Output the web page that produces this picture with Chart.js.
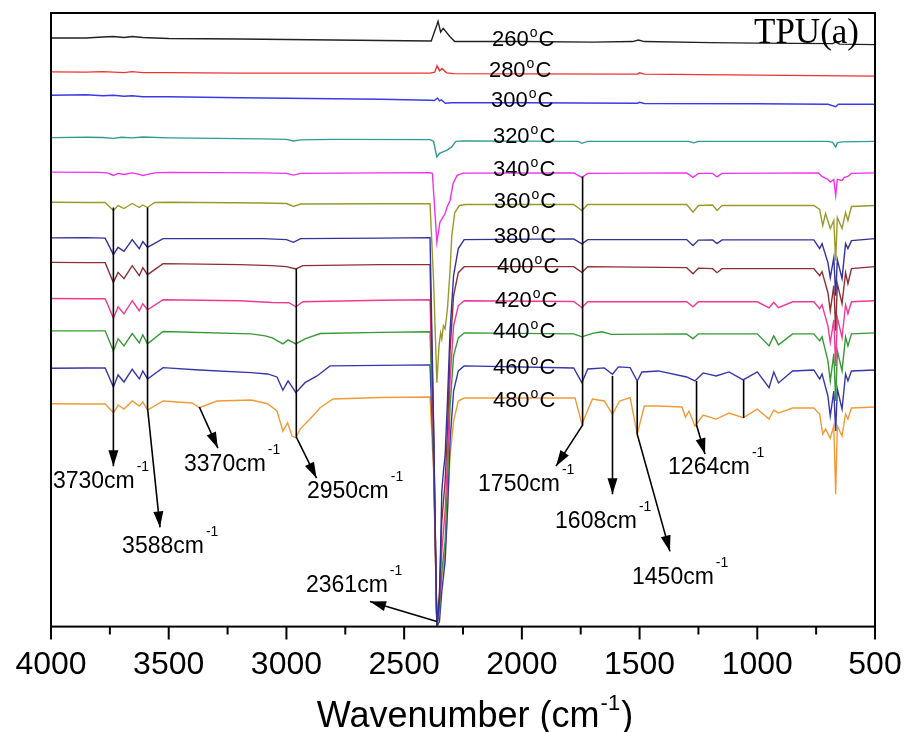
<!DOCTYPE html>
<html>
<head>
<meta charset="utf-8">
<script src="https://cdn.jsdelivr.net/npm/chart.js@4/dist/chart.umd.min.js"></script>
<style>
  html, body { margin: 0; padding: 0; background: #fff; }
</style>
</head>
<body>
<canvas id="chart" width="909" height="732"></canvas>
<script>
"use strict";

// FTIR spectra of TPU, one curve per temperature, offset vertically (a.u.)
const temps = ["260", "280", "300", "320", "340", "360", "380", "400", "420", "440", "460", "480"];
const colors = ["#222222", "#ee3333", "#3a3ae8", "#2f9a96", "#f030f0", "#99992a",
                "#32329a", "#8e2f35", "#ee3a96", "#359a35", "#3636a8", "#f29a38"];

// [wavenumber, offset intensity]
const s260 = [[4000,587],[3850,587],[3780,588],[3735,588.5],[3690,587.5],[3655,588.5],[3610,587.5],[3560,587],
  [3500,586.5],[3200,586],[3000,585.5],[2600,584.5],[2385,584],[2361,600],[2356,603.7],[2345,593],[2334,596.7],
  [2305,588.3],[2285,583.5],[2000,583.5],[1700,583],[1530,583.5],[1505,585],[1480,583.5],[1200,582.5],[1000,582],
  [680,581.5],[667,583],[650,581],[500,580.5]];
const s280 = [[4000,553.3],[3850,553],[3780,553.5],[3735,553],[3690,552.5],[3655,553.5],[3610,552.5],[3500,552.5],
  [3200,552],[2800,552],[2390,552],[2370,553],[2360,559.3],[2349,554.3],[2339,556.7],[2320,552.3],[2290,551.5],
  [2000,551.3],[1510,551],[1500,552.3],[1480,551],[1000,550],[500,549]];
const s300 = [[4000,530],[3850,530.5],[3780,529.5],[3735,530],[3690,529],[3655,529.5],[3610,528.5],[3500,528.5],
  [3200,527.5],[3000,527],[2600,526],[2390,525],[2372,524.7],[2358,527.3],[2350,524.3],[2342,525.3],[2325,522],
  [2300,522.5],[2000,522.5],[1510,522],[1500,523],[1480,521.8],[1000,521.5],[700,521],[667,518.5],[655,521],[500,521]];
const s320 = [[4000,487.7],[3850,488],[3780,487.8],[3735,487],[3700,488],[3655,487.5],[3610,488.3],[3500,487.5],
  [3100,486.5],[3000,486],[2970,484.3],[2940,485.5],[2800,486],[2390,485.7],[2375,484],[2361,468.3],[2350,472],
  [2340,473],[2320,475],[2300,478],[2280,484],[2250,484.5],[1760,484],[1745,482],[1720,484],[1290,484],[1270,482.5],
  [1250,484],[700,484],[680,483],[667,478.3],[660,482.5],[640,483.5],[500,484]];
const s340 = [[4000,453.3],[3800,453],[3760,452.5],[3735,450],[3715,452],[3690,451],[3655,452.5],[3625,451],
  [3610,450],[3590,451],[3560,452.5],[3500,453],[3100,452.5],[3000,452],[2970,450.3],[2940,452],[2600,452.5],
  [2390,452.7],[2380,452],[2361,383.3],[2348,403.3],[2339,407],[2326,412],[2318,418.3],[2305,425],[2292,442],
  [2275,450],[2250,452.3],[1780,452.5],[1745,448],[1720,452],[1300,452.5],[1273,448],[1250,452],[1190,452],
  [1171,448.5],[1150,452],[740,452.5],[725,449],[700,446],[690,443.3],[675,446],[667,430],[660,446],[640,445],
  [630,448],[615,449],[600,452],[500,452.5]];
const s360 = [[4000,423.3],[3850,423],[3770,423],[3735,415],[3715,420],[3690,417],[3655,422],[3625,418],[3610,420.5],
  [3590,418],[3560,423],[3500,423.3],[3100,422.5],[3000,422],[2970,419],[2940,421.5],[2600,421.7],[2390,421.7],
  [2375,345],[2361,243.3],[2352,280],[2345,293],[2340,287],[2333,300],[2326,297],[2316,317],[2305,355],[2298,389],
  [2285,413],[2265,420],[2240,421],[1780,421],[1745,415],[1720,421],[1300,421],[1273,413.3],[1250,420],[1190,420.5],
  [1171,415],[1150,420],[760,420],[735,416],[722,400],[710,412],[690,397],[675,405],[667,365],[660,408],[640,397],
  [625,413],[615,405],[600,419],[500,420]];
const s380 = [[4000,387.7],[3850,388],[3770,387.5],[3735,371],[3715,378.3],[3690,374.3],[3655,386],[3625,377],
  [3610,384],[3590,378.3],[3524,387],[3100,387],[3000,386],[2970,383.3],[2940,387],[2600,387.5],[2390,388],
  [2375,205],[2361,0],[2350,25],[2340,135],[2333,155],[2326,170],[2316,225],[2305,295],[2290,350],[2270,377],
  [2245,386],[1780,386.7],[1745,381.7],[1720,386],[1300,386],[1273,380],[1250,385.5],[1190,385.7],[1171,382],
  [1150,385.7],[760,385.7],[735,377],[725,382],[700,363],[690,348],[675,368],[667,330],[660,366],[640,347],
  [625,382],[615,377],[600,385],[500,387]];
const s400 = [[4000,363.3],[3850,363],[3770,363],[3735,343.3],[3715,353.3],[3690,347],[3655,360],[3625,350],
  [3610,358],[3590,351],[3524,362],[3200,361],[3061,360],[3000,359],[2960,356.7],[2930,360],[2600,361],[2390,361],
  [2375,195],[2361,0],[2350,35],[2340,105],[2333,125],[2326,145],[2316,195],[2305,275],[2290,330],[2270,353],
  [2245,359],[1780,359],[1745,353.3],[1720,359],[1300,358],[1273,352],[1250,357.5],[1190,357],[1171,353],[1150,357],
  [760,357],[735,350],[725,354],[700,333],[690,315],[675,340],[667,295],[660,342],[640,322],[625,353],[615,342],
  [600,357],[500,359]];
const s420 = [[4000,327.3],[3850,327],[3770,327],[3735,307.7],[3715,319],[3690,312],[3655,325],[3625,315],
  [3610,322],[3590,316],[3524,326],[3200,325],[3061,323.3],[2990,323],[2960,319],[2930,324],[2600,325.5],
  [2390,326],[2375,185],[2361,0],[2350,25],[2340,75],[2333,95],[2326,115],[2316,165],[2305,245],[2290,300],
  [2270,320],[2245,325],[1780,324.3],[1745,318.3],[1720,324],[1300,324],[1273,319],[1250,324],[1000,324],[950,318],
  [930,323.5],[910,318],[850,324],[760,324],[735,317],[725,321],[700,300],[690,283.3],[675,306],[667,260],[660,308],
  [640,288.3],[625,321],[615,312],[600,324],[500,325]];
const s440 = [[4000,295],[3850,295],[3770,295],[3735,275],[3715,287],[3690,280],[3655,292.3],[3625,283],[3610,291],
  [3590,282],[3524,294.3],[3150,292],[3090,290],[3060,288],[3015,282],[2993,286],[2960,282],[2921,287],[2857,292.3],
  [2600,293.5],[2390,294],[2375,175],[2361,0],[2350,15],[2340,55],[2333,70],[2326,85],[2316,145],[2305,220],
  [2290,270],[2270,288],[2245,293],[1780,292],[1745,289],[1700,292.5],[1660,294],[1620,291.5],[1300,292],[1273,287],
  [1250,292],[1000,292],[950,280],[930,290],[910,281],[850,292],[760,292],[735,285],[725,289],[700,265],[690,245],
  [675,272],[667,225],[660,275],[640,255],[625,289],[615,280],[600,292],[500,293]];
const s460 = [[4000,257.7],[3850,258],[3770,258],[3735,239],[3715,251],[3690,244],[3655,256.7],[3625,247],[3610,255],
  [3590,247],[3524,258.3],[3370,256],[3150,253.3],[3080,252],[3040,249],[3015,235.7],[2993,245],[2960,233.3],
  [2921,243.3],[2870,250],[2815,260],[2600,260.5],[2390,261],[2375,165],[2361,0],[2350,5],[2340,35],[2333,50],
  [2326,65],[2316,115],[2305,185],[2290,235],[2270,255],[2245,260],[1780,258],[1745,243.3],[1720,257],[1650,258],
  [1615,251.7],[1590,259],[1540,258.3],[1510,245],[1490,254],[1420,255],[1300,249],[1265,245],[1230,253],[1175,250],
  [1120,254],[1060,246],[1000,254],[950,238.3],[930,254],[910,243],[850,255],[760,256],[735,247],[725,252],[700,230],
  [690,210],[675,235],[667,195],[660,237],[640,217],[625,252],[615,245],[600,255],[500,256]];
const s480 = [[4000,222.3],[3850,222],[3770,222],[3735,213.3],[3715,221],[3690,217],[3655,225],[3625,220],[3610,224],
  [3590,216],[3524,225],[3400,223],[3370,218.3],[3295,225],[3150,226],[3080,222.3],[3040,215],[3015,195],[2995,203.3],
  [2976,190],[2960,188.3],[2942,197],[2900,207],[2857,218.3],[2802,227],[2600,228.5],[2390,229],[2375,155],[2361,0],
  [2350,25],[2340,50],[2333,60],[2326,75],[2316,115],[2305,170],[2290,205],[2270,225],[2245,228],[1774,228],[1745,202],
  [1700,227],[1650,225],[1615,212],[1585,225],[1540,228.3],[1510,192],[1480,220],[1420,220],[1320,219],[1305,209],
  [1290,215],[1265,200],[1230,211],[1175,207],[1120,213],[1060,208.3],[1000,217],[950,207],[930,216],[910,213],
  [850,218],[760,218],[735,212],[722,192],[710,197],[690,188],[675,200],[667,132],[660,200],[640,190],[625,212],
  [615,207],[600,218],[500,219]];
const spectra = [s260, s280, s300, s320, s340, s360, s380, s400, s420, s440, s460, s480];

// temperature labels: left wavenumber, baseline intensity
const tempLabelWn = [2127, 2140, 2131, 2123, 2123, 2119, 2119, 2106, 2114, 2123, 2123, 2123];
const tempLabelY = [579, 548, 518, 482, 449, 418, 383, 353, 319, 288, 252, 219];

// peak assignments: marker paths (last point gets an arrow head) and label anchors
const peakNames = ["3730", "3588", "3370", "2950", "2361", "1750", "1608", "1450", "1264"];
const peakPaths = [
  [[3735, 418], [3735, 160]],
  [[3590, 418], [3590, 218], [3537, 99]],
  [[3370, 219], [3291, 178]],
  [[2958, 357], [2958, 189], [2872, 148]],
  [[2361, 5], [2645, 25]],
  [[1742, 449], [1742, 201], [1855, 160]],
  [[1615, 250], [1615, 132]],
  [[1510, 245], [1510, 192], [1371, 75]],
  [[1258, 245], [1258, 201], [1222, 172]]
];
const peakTextWn = [3992, 3698, 3435, 2913, 2917, 2186, 1859, 1532, 1379];
const peakTextY = [138, 73, 155, 128, 35, 135, 98, 42, 152];
const plainMarks = [[[1058, 246], [1058, 208]]];

const majorTicks = [4000, 3500, 3000, 2500, 2000, 1500, 1000, 500];
const minorTicks = [3750, 3250, 2750, 2250, 1750, 1250, 750];

const SANS = '"Liberation Sans", Arial, sans-serif';

function drawRich(ctx, x, y, parts) {
  let cx = x;
  for (const [text, size, rise, gap] of parts) {
    ctx.font = size + "px " + SANS;
    cx += gap || 0;
    ctx.fillText(text, cx, y - rise);
    cx += ctx.measureText(text).width;
  }
  return cx - x;
}

function richWidth(ctx, parts) {
  let w = 0;
  for (const [text, size, rise, gap] of parts) {
    ctx.font = size + "px " + SANS;
    w += (gap || 0) + ctx.measureText(text).width;
  }
  return w;
}

function arrowHead(ctx, from, to) {
  const ang = Math.atan2(to[1] - from[1], to[0] - from[0]);
  const len = 16, half = 5;
  ctx.beginPath();
  ctx.moveTo(to[0], to[1]);
  ctx.lineTo(to[0] - len * Math.cos(ang) + half * Math.sin(ang),
             to[1] - len * Math.sin(ang) - half * Math.cos(ang));
  ctx.lineTo(to[0] - len * Math.cos(ang) - half * Math.sin(ang),
             to[1] - len * Math.sin(ang) + half * Math.cos(ang));
  ctx.closePath();
  ctx.fill();
}

const decorPlugin = {
  id: "decor",
  afterDatasetsDraw(chart) {
    const ctx = chart.ctx;
    const xs = chart.scales.x, ys = chart.scales.y;
    const area = chart.chartArea;
    const pt = p => [xs.getPixelForValue(p[0]), ys.getPixelForValue(p[1])];
    ctx.save();
    ctx.strokeStyle = "#000";
    ctx.fillStyle = "#000";

    // frame
    ctx.lineWidth = 2;
    ctx.strokeRect(area.left, area.top, area.right - area.left, area.bottom - area.top);

    // outward tick marks
    ctx.beginPath();
    for (const t of majorTicks) {
      const x = xs.getPixelForValue(t);
      ctx.moveTo(x, area.bottom);
      ctx.lineTo(x, area.bottom + 13);
    }
    for (const t of minorTicks) {
      const x = xs.getPixelForValue(t);
      ctx.moveTo(x, area.bottom);
      ctx.lineTo(x, area.bottom + 8);
    }
    ctx.stroke();

    // peak markers
    ctx.lineWidth = 1.6;
    for (const path of peakPaths.concat(plainMarks)) {
      const pts = path.map(pt);
      ctx.beginPath();
      ctx.moveTo(pts[0][0], pts[0][1]);
      for (let i = 1; i < pts.length; i++) ctx.lineTo(pts[i][0], pts[i][1]);
      ctx.stroke();
    }
    for (const path of peakPaths) {
      const pts = path.map(pt);
      arrowHead(ctx, pts[pts.length - 2], pts[pts.length - 1]);
    }

    // peak labels
    ctx.textBaseline = "alphabetic";
    ctx.textAlign = "left";
    peakNames.forEach((name, i) => {
      const [x, y] = pt([peakTextWn[i], peakTextY[i]]);
      drawRich(ctx, x, y, [[name + "cm", 23, 0], ["-1", 14, 17, 2]]);
    });

    // temperature labels
    temps.forEach((t, i) => {
      const [x, y] = pt([tempLabelWn[i], tempLabelY[i]]);
      drawRich(ctx, x, y, [[t, 22, 0], ["o", 14, 9, 1], ["C", 22, 0, 1]]);
    });

    // sample tag
    ctx.font = '35px "Liberation Serif", "Times New Roman", serif';
    ctx.textAlign = "right";
    const [tx, ty] = pt([568, 582]);
    ctx.fillText("TPU(a)", tx, ty);

    // axis title
    ctx.textAlign = "left";
    const title = [["Wavenumber (cm", 36, 0], ["-1", 22, 17, 1], [")", 36, 0, 1]];
    const w = richWidth(ctx, title);
    const cx = (area.left + area.right) / 2 + 12;
    drawRich(ctx, cx - w / 2, area.bottom + 100, title);

    ctx.restore();
  }
};

const datasets = spectra.map((s, i) => ({
  label: temps[i] + "\u00B0C",
  data: s.map(p => ({ x: p[0], y: p[1] })),
  borderColor: colors[i],
  borderWidth: 1.4,
  pointRadius: 0,
  tension: 0,
  fill: false
}));

new Chart(document.getElementById("chart").getContext("2d"), {
  type: "line",
  data: { datasets: datasets },
  options: {
    responsive: false,
    animation: false,
    layout: { padding: { left: 51, right: 34, top: 13, bottom: 29 } },
    plugins: { legend: { display: false }, tooltip: { enabled: false } },
    scales: {
      x: {
        type: "linear",
        reverse: true,
        min: 500,
        max: 4000,
        grid: { display: false, drawTicks: false, tickLength: 0 },
        border: { display: false },
        afterFit: function (scale) {
          scale.paddingLeft = 0;
          scale.paddingRight = 0;
        },
        ticks: {
          stepSize: 500,
          padding: 19,
          color: "#000",
          font: { family: "Liberation Sans", size: 32 },
          maxRotation: 0,
          callback: v => String(v)
        }
      },
      y: {
        display: false,
        min: 0,
        max: 612
      }
    }
  },
  plugins: [decorPlugin]
});
</script>
</body>
</html>
